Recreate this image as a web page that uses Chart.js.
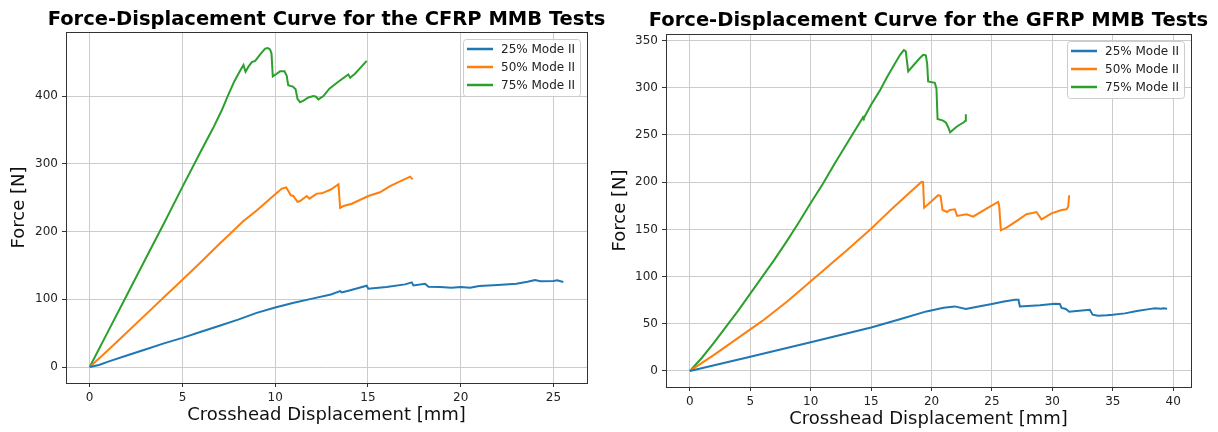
<!DOCTYPE html>
<html>
<head>
<meta charset="utf-8">
<script src="https://cdn.jsdelivr.net/npm/chart.js@4.4.0/dist/chart.umd.min.js"></script>
<style>
  html, body { margin: 0; padding: 0; background: #fff; }
  #wrap { position: relative; width: 1218px; height: 432px; overflow: hidden; }
  canvas { position: absolute; top: 0; }
  #cfrp { left: 0; }
  #gfrp { left: 608px; }
</style>
</head>
<body>
<div id="wrap">
  <canvas id="cfrp" width="608" height="432"></canvas>
  <canvas id="gfrp" width="610" height="432"></canvas>
</div>
<script>
const seriesLabels = ["25% Mode II", "50% Mode II", "75% Mode II"];
const seriesColors = ["#1f77b4", "#ff7f0e", "#2ca02c"];

// CFRP curves [displacement mm, force N]
const cfrp25 = [[0,0],[0.5,3],[1,8],[2,17],[3,26],[4,35],[5,43],[6,52],[7,61],[8,70],[9,80],[10,88],[11,95],[12,101],[13,107],[13.5,112],[13.59,110],[14,113],[14.93,120],[15.02,115.5],[16,118],[17,122],[17.36,125],[17.45,120.5],[18.08,123],[18.26,118.5],[18.89,118],[19.5,117],[20,118],[20.5,117],[21,119.5],[22,121],[23,123],[23.6,126],[24,128.5],[24.3,126.5],[25,127],[25.2,128],[25.53,125.5]];
const cfrp50 = [[0,0],[1,25],[2,51],[3,77],[4,103],[5,129],[6,155],[7,182],[7.5,195],[8.29,215.5],[9,231],[9.28,237.7],[10,255],[10.36,263.4],[10.59,265],[10.71,260],[10.84,253.5],[10.98,252.5],[11.2,244],[11.34,245],[11.7,252.5],[11.84,248.6],[12.24,256],[12.51,256.4],[13,262],[13.41,269.8],[13.5,235],[13.68,237.7],[14.13,241],[15.02,252.5],[15.65,258],[16.19,267],[17.27,281],[17.41,277]];
const cfrp75 = [[0,0],[1,53],[2,106],[3,159],[4,212],[5,266],[6,319],[6.64,352],[7.12,379],[7.44,400],[7.8,422],[8.1,437],[8.29,446],[8.4,436],[8.55,443],[8.74,450],[8.92,452],[9.2,462],[9.46,470],[9.6,471],[9.72,469],[9.8,463],[9.87,429],[10.08,433],[10.26,436.5],[10.5,436.5],[10.62,430],[10.7,416],[10.95,414],[11.1,410],[11.2,396],[11.34,391],[11.5,393],[11.79,398],[12.06,400],[12.2,399],[12.33,395],[12.6,400],[12.92,411],[13.4,421],[13.94,432],[14.04,427],[14.3,433],[14.6,442],[14.93,452]];

// GFRP curves [displacement mm, force N]
const gfrp25 = [[0,0],[5,15],[10,30.5],[15,46],[17.24,54.3],[19.58,63.1],[21,67],[21.93,68.4],[22.84,65.6],[24,68.5],[25,71],[26,73.5],[26.9,75.5],[27.2,75.5],[27.31,68.4],[28.97,69.5],[30.21,71.3],[30.62,71],[30.76,66.7],[31.12,65.6],[31.39,62.8],[32,63.5],[33.1,64.9],[33.33,59.6],[33.79,58.5],[34.5,59],[35,59.5],[36,61],[37,63.5],[38,65.5],[38.5,66.5],[39,66],[39.2,66.5],[39.5,66]];
const gfrp50 = [[0,0],[1,8.5],[2,17],[3,26],[4,35],[5,44],[6,53],[7,63],[8,73],[9,84],[10,95],[11,106],[12,117],[13,128],[14,139.4],[15,150.7],[16,163],[16.82,173],[18.2,189],[19.17,200.3],[19.3,200],[19.39,173],[19.72,176.6],[20.55,186.2],[20.75,185.4],[20.91,170.5],[21.29,168.4],[21.51,170.5],[21.93,171.3],[22.12,164.2],[22.9,166],[23.44,163.5],[24.55,172],[25.51,179],[25.6,175],[25.74,149],[26.21,151.8],[27.03,158.8],[27.86,166],[28.69,168.4],[29.1,160.6],[29.93,167],[30.76,170.5],[31.17,171.3],[31.31,174],[31.39,186.2]];
const gfrp75 = [[0,0],[1,14],[2,30],[3,47],[4,64],[5,82],[6,100],[7,118],[8,137],[9,157],[10,178],[11,198],[12,220],[13,241],[14,262],[14.34,269],[14.4,268],[15,282],[15.72,297],[16.3,311],[16.96,325.5],[17.4,335],[17.71,340],[17.87,338.6],[17.95,330],[18.07,317.3],[18.62,325.5],[19,331],[19.31,335],[19.53,334.4],[19.64,325.5],[19.72,306.7],[20.27,305.3],[20.41,299],[20.5,267],[20.96,265.2],[21.2,263],[21.38,258.2],[21.54,252.8],[22.1,259],[22.67,263.5],[22.8,265],[22.84,272]];

const cfrpXTicks = [0, 5, 10, 15, 20, 25];
const cfrpYTicks = [0, 100, 200, 300, 400];
const gfrpXTicks = [0, 5, 10, 15, 20, 25, 30, 35, 40];
const gfrpYTicks = [0, 50, 100, 150, 200, 250, 300, 350];

const FONT = "'DejaVu Sans', 'Liberation Sans', sans-serif";

// matplotlib style 5% margins
function limits(series, k) {
  let lo = Infinity, hi = -Infinity;
  series.forEach(s => s.forEach(p => { lo = Math.min(lo, p[k]); hi = Math.max(hi, p[k]); }));
  const m = (hi - lo) * 0.05;
  return [lo - m, hi + m];
}

function makeChart(id, title, series, xTicks, yTicks, lay) {
  const xl = limits(series, 0);
  const yl = limits(series, 1);

  const decor = {
    id: "decor",
    afterDraw(chart) {
      const ctx = chart.ctx;
      const ca = chart.chartArea;
      ctx.save();
      // frame
      ctx.strokeStyle = "#333";
      ctx.lineWidth = 1;
      ctx.strokeRect(Math.round(ca.left) + 0.5, Math.round(ca.top) + 0.5,
        Math.round(ca.right - ca.left), Math.round(ca.bottom - ca.top));
      // title
      ctx.fillStyle = "#000";
      ctx.font = "bold 19.5px " + FONT;
      ctx.textAlign = "center";
      ctx.textBaseline = "middle";
      ctx.fillText(title, (ca.left + ca.right) / 2, lay.titleY);
      // legend
      const bw = 117, bh = 57;
      const bx = ca.right - 7 - bw, by = ca.top + 7;
      ctx.fillStyle = "rgba(255,255,255,0.85)";
      ctx.strokeStyle = "#cccccc";
      ctx.beginPath();
      ctx.roundRect(bx + 0.5, by + 0.5, bw, bh, 3);
      ctx.fill();
      ctx.stroke();
      ctx.font = "12px " + FONT;
      ctx.textAlign = "left";
      chart.data.datasets.forEach((ds, i) => {
        const y = by + 10 + 18 * i;
        ctx.strokeStyle = ds.borderColor;
        ctx.lineWidth = 2.5;
        ctx.beginPath();
        ctx.moveTo(bx + 4, y);
        ctx.lineTo(bx + 30, y);
        ctx.stroke();
        ctx.fillStyle = "#222";
        ctx.fillText(ds.label, bx + 38, y + 1);
      });
      ctx.restore();
    }
  };

  const grid = { color: "#cccccc", lineWidth: 1, drawTicks: true, tickLength: 4, tickColor: "#333", tickWidth: 1 };
  const tickFont = { family: FONT, size: 12 };

  return new Chart(document.getElementById(id), {
    type: "scatter",
    data: {
      datasets: series.map((s, i) => ({
        label: seriesLabels[i],
        data: s.map(p => ({ x: p[0], y: p[1] })),
        showLine: true,
        borderColor: seriesColors[i],
        backgroundColor: seriesColors[i],
        borderWidth: 2,
        pointRadius: 0,
        tension: 0
      }))
    },
    options: {
      responsive: false,
      animation: false,
      events: [],
      layout: { padding: lay.pad },
      plugins: { legend: { display: false }, tooltip: { enabled: false }, title: { display: false } },
      scales: {
        x: {
          type: "linear",
          min: xl[0],
          max: xl[1],
          afterBuildTicks: s => { s.ticks = xTicks.map(v => ({ value: v })); },
          afterFit: s => { s.height = lay.xh; },
          ticks: { font: tickFont, color: "#222", padding: 4, maxRotation: 0 },
          grid: grid,
          border: { display: false },
          title: { display: true, text: "Crosshead Displacement [mm]", font: { family: FONT, size: 18 }, color: "#111", padding: { top: 0, bottom: lay.xTitlePad } }
        },
        y: {
          type: "linear",
          min: yl[0],
          max: yl[1],
          afterBuildTicks: s => { s.ticks = yTicks.map(v => ({ value: v })); },
          afterFit: s => { s.width = lay.yw; },
          ticks: { font: tickFont, color: "#222", padding: 4 },
          grid: grid,
          border: { display: false },
          title: { display: true, text: "Force [N]", font: { family: FONT, size: 18 }, color: "#111", padding: { top: lay.yTitlePad, bottom: 0 } }
        }
      }
    },
    plugins: [decor]
  });
}

makeChart("cfrp", "Force-Displacement Curve for the CFRP MMB Tests",
  [cfrp25, cfrp50, cfrp75], cfrpXTicks, cfrpYTicks,
  { pad: { top: 32, left: 0, right: 21, bottom: 0 }, xh: 49, yw: 66, titleY: 20, xTitlePad: 6, yTitlePad: 9 });

makeChart("gfrp", "Force-Displacement Curve for the GFRP MMB Tests",
  [gfrp25, gfrp50, gfrp75], gfrpXTicks, gfrpYTicks,
  { pad: { top: 34, left: 0, right: 27, bottom: 0 }, xh: 45, yw: 58, titleY: 21, xTitlePad: 2, yTitlePad: 2 });
</script>
</body>
</html>
